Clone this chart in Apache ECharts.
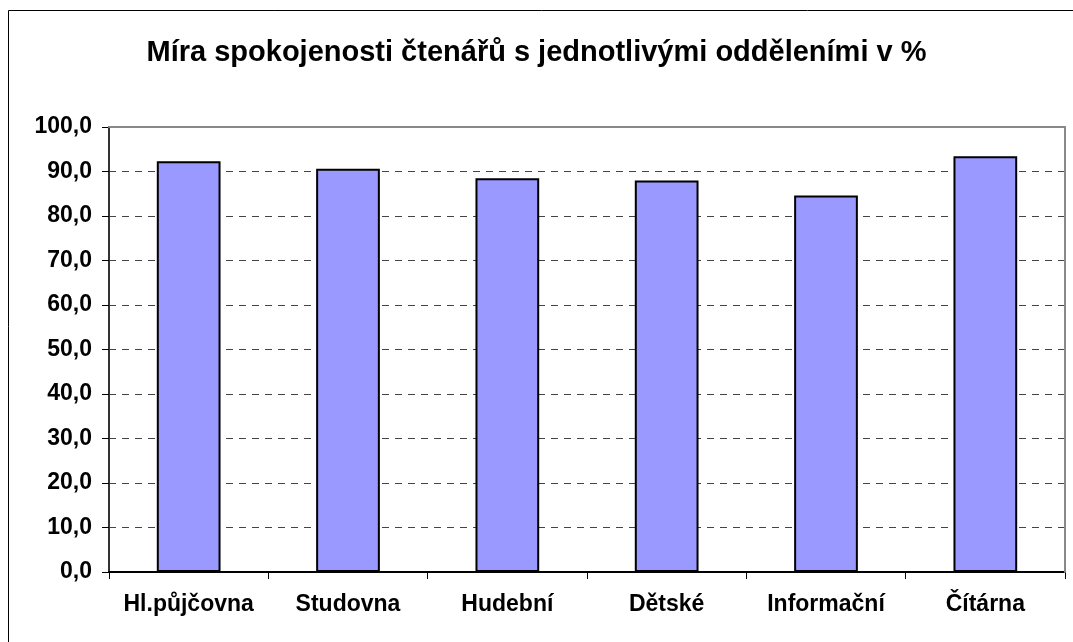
<!DOCTYPE html>
<html>
<head>
<meta charset="utf-8">
<script src="https://cdn.jsdelivr.net/npm/echarts@6/dist/echarts.min.js"></script>
<style>
    html, body { margin: 0; padding: 0; background: #fff; }
    #myChart { width: 1073px; height: 642px; }
</style>
</head>
<body>
<div id="myChart"></div>
<script>
    // oddělení a míra spokojenosti v %
    var categories = ['Hl.půjčovna', 'Studovna', 'Hudební', 'Dětské', 'Informační', 'Čítárna'];
    var values = [92.3, 90.6, 88.5, 88.0, 84.6, 93.4];
    var titleText = 'Míra spokojenosti čtenářů s jednotlivými odděleními v %';

    var myChart = echarts.init(document.getElementById('myChart'));

    myChart.setOption({
        animation: false,
        textStyle: {
            fontFamily: 'Liberation Sans, Arial, sans-serif'
        },
        // rámeček kolem celého grafu
        graphic: [{
            type: 'rect',
            shape: { x: 8.5, y: 10.5, width: 1100, height: 700 },
            style: { fill: 'none', stroke: '#000', lineWidth: 1 },
            silent: true
        }],
        title: {
            text: titleText,
            left: 'center',
            top: 33,
            textStyle: {
                color: '#000',
                fontWeight: 'bold',
                fontSize: 29,
                fontFamily: 'Liberation Sans, Arial, sans-serif'
            }
        },
        grid: {
            left: 109,
            right: 8,
            top: 127,
            bottom: 70
        },
        xAxis: [{
            type: 'category',
            data: categories,
            axisLine: { lineStyle: { color: '#000', width: 2 } },
            axisTick: { show: true, length: 7, lineStyle: { color: '#000', width: 1 } },
            axisLabel: {
                color: '#000',
                fontWeight: 'bold',
                fontSize: 23,
                margin: 21,
                interval: 0
            },
            splitLine: { show: false }
        }, {
            // horní okraj plochy grafu
            type: 'category',
            position: 'top',
            z: 5,
            data: categories,
            axisLine: { show: true, onZero: false, lineStyle: { color: '#888', width: 2 } },
            axisTick: { show: false },
            axisLabel: { show: false },
            splitLine: { show: false }
        }],
        yAxis: [{
            type: 'value',
            min: 0,
            max: 100,
            interval: 10,
            axisLine: { show: true, lineStyle: { color: '#333', width: 2 } },
            axisTick: { show: true, length: 7, lineStyle: { color: '#000', width: 1 } },
            axisLabel: {
                color: '#000',
                fontWeight: 'bold',
                fontSize: 23,
                margin: 17,
                formatter: function (v) {
                    return v.toFixed(1).replace('.', ',');
                }
            },
            splitLine: {
                show: true,
                showMinLine: false,
                showMaxLine: false,
                lineStyle: { color: '#444', width: 1, type: [7, 6] }
            }
        }, {
            // pravý okraj plochy grafu
            type: 'value',
            position: 'right',
            z: 5,
            min: 0,
            max: 100,
            interval: 10,
            axisLine: { show: true, onZero: false, lineStyle: { color: '#888', width: 2 } },
            axisTick: { show: false },
            axisLabel: { show: false },
            splitLine: { show: false }
        }],
        series: [{
            type: 'bar',
            data: values,
            barWidth: '40%',
            itemStyle: {
                color: '#9999FF',
                borderColor: '#000',
                borderWidth: 2
            }
        }]
    });
</script>
</body>
</html>
